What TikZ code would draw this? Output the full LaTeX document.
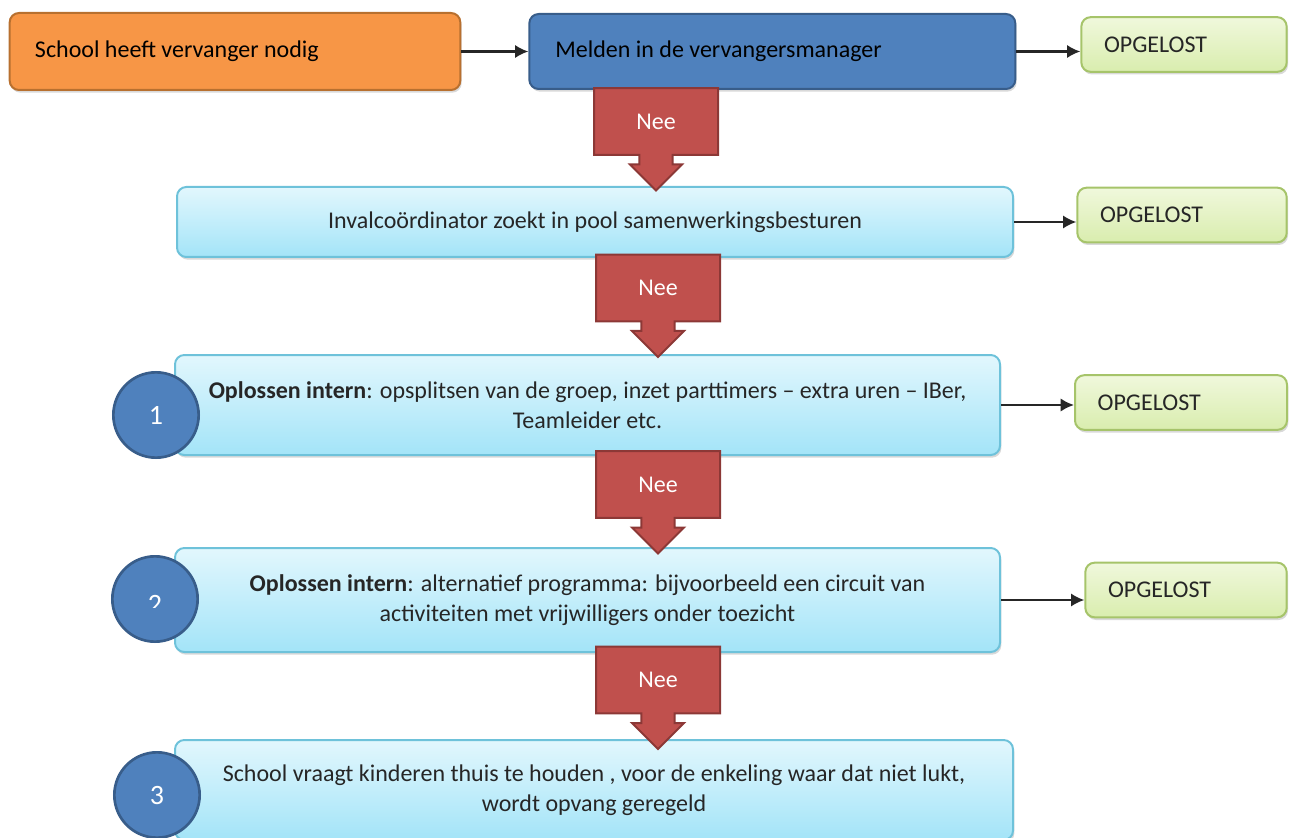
\documentclass[tikz,border=0pt]{standalone}
\usepackage{fontspec}
\setmainfont{Carlito}
\usetikzlibrary{positioning,shapes.arrows,shadows,arrows.meta}
\definecolor{orangefill}{HTML}{F79646}
\definecolor{orangeline}{HTML}{B8702F}
\definecolor{bluefill}{HTML}{4F81BD}
\definecolor{blueline}{HTML}{385D8A}
\definecolor{cyantop}{HTML}{E2F7FD}
\definecolor{cyanbot}{HTML}{A3E4F8}
\definecolor{cyanline}{HTML}{6EC2DA}
\definecolor{greentop}{HTML}{F0F8DC}
\definecolor{greenbot}{HTML}{D9EDAE}
\definecolor{greenline}{HTML}{A6C46A}
\definecolor{redfill}{HTML}{C0504D}
\definecolor{redline}{HTML}{8C3836}

\begin{document}
\begin{tikzpicture}[x=0.75pt, y=-0.75pt, font=\fontsize{18}{22.5}\selectfont,
  box/.style={draw, rounded corners=7pt, line width=1.5pt, inner sep=0pt,
    drop shadow={shadow xshift=1pt, shadow yshift=-2pt, opacity=.3}},
  stepbox/.style={box, top color=cyantop, bottom color=cyanbot, draw=cyanline,
    align=center, text=black!85},
  donebox/.style={box, top color=greentop, bottom color=greenbot, draw=greenline,
    minimum height=41pt, inner xsep=17pt, align=flush left, text=black!85},
  nee/.style={arrow box, arrow box arrows={south:26pt}, arrow box shaft width=25pt,
    arrow box head extend=7pt, fill=redfill, draw=redline, line width=1.5pt,
    minimum width=93pt, minimum height=50pt, inner sep=0pt, text=white},
  num/.style={circle, draw=blueline, fill=bluefill, line width=2pt,
    minimum size=64pt, inner sep=0pt, text=white, font=\fontsize{21}{24}\selectfont},
  flow/.style={-{Latex[length=10pt,width=10pt]}, line width=1.6pt, draw=black!85}]
  \useasboundingbox (0,0) rectangle (1293,838);

  % first row
  \node[box, fill=orangefill, draw=orangeline, text width=300pt, inner xsep=19pt,
    minimum height=57.75pt, align=flush left] (need) at (235,51.5) {School heeft vervanger nodig};
  \node[box, fill=bluefill, draw=blueline, text width=325.5pt, inner xsep=19.5pt,
    minimum height=56.25pt, align=flush left, right=50.25pt of need] (melden)
    {Melden in de vervangersmanager};
  \node[donebox, text width=120pt] (ok1) at (1184,44.5) {OPGELOST};

  % steps
  \node[stepbox, minimum width=627pt, minimum height=52.5pt] (pool) at (595,222)
    {Invalcoördinator zoekt in pool samenwerkingsbesturen};
  \node[stepbox, minimum width=618.75pt, minimum height=75pt] (split) at (587.5,405)
    {\textbf{Oplossen intern}: opsplitsen van de groep, inzet parttimers -- extra uren -- IBer,\\ Teamleider etc.};
  \node[stepbox, minimum width=618.75pt, minimum height=78pt] (circuit) at (587.5,600)
    {\textbf{Oplossen intern}: alternatief programma: bijvoorbeeld een circuit van\\ activiteiten met vrijwilligers onder toezicht};
  \node[stepbox, minimum width=628.5pt, minimum height=75pt] (thuis) at (594,790)
    {School vraagt kinderen thuis te houden , voor de enkeling waar dat niet lukt,\\ wordt opvang geregeld};

  \node[donebox, text width=123pt] (ok2) at (1182,215) {OPGELOST};
  \node[donebox, text width=125pt] (ok3) at (1181,402.5) {OPGELOST};
  \node[donebox, text width=117pt] (ok4) at (1186,590) {OPGELOST};

  % Nee arrows
  \node[nee] (nee1) at (656,121.5) {Nee};
  \node[nee] (nee2) at (658,288) {Nee};
  \node[nee] (nee3) at (658,484.5) {Nee};
  \node[nee] (nee4) at (658,680) {Nee};

  % numbers
  \node[num, text depth=-3pt] (n1) at (156,415) {1};
  \node[num] (n2) at (155,599) {};
  \begin{scope}
    \clip (135,585) rectangle (180,607.5);
    \node[num, draw=none, fill=none, minimum size=0pt] (t2) at (155,604) {2};
  \end{scope}
  \node[num, text depth=-3pt] (n3) at (157,795) {3};

  \draw[flow] (need) -- (melden);
  \draw[flow] (melden.east) -- (melden.east -| ok1.west);
  \draw[flow] (pool.east) -- (pool.east -| ok2.west);
  \draw[flow] (split.east) -- (split.east -| ok3.west);
  \draw[flow] (circuit.east) -- (circuit.east -| ok4.west);
\end{tikzpicture}
\end{document}
